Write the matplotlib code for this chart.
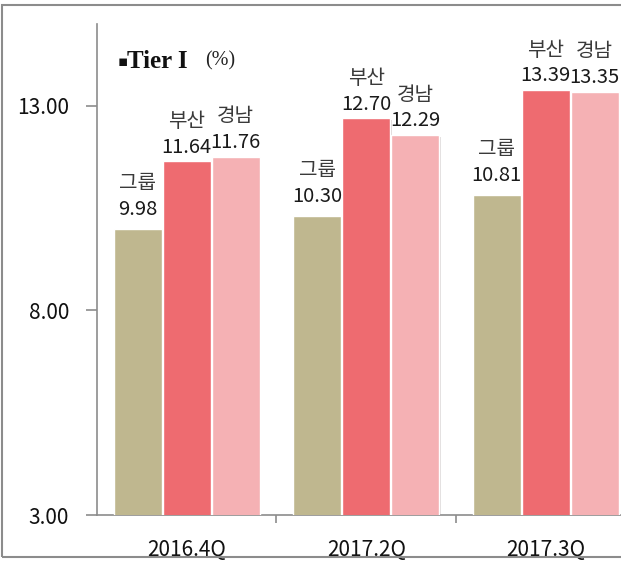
import matplotlib

matplotlib.use("Agg")

import matplotlib.pyplot as plt
import matplotlib.patheffects as pe
from matplotlib.patches import Rectangle
import numpy as np

plt.rcParams["font.family"] = ["Noto Sans CJK KR", "DejaVu Sans"]

quarters = ["2016.4Q", "2017.2Q", "2017.3Q"]
series = ["그룹", "부산", "경남"]
values = {
    "그룹": [9.98, 10.30, 10.81],
    "부산": [11.64, 12.70, 13.39],
    "경남": [11.76, 12.29, 13.35],
}
colors = {"그룹": "#bfb78f", "부산": "#ee6b70", "경남": "#f5b1b4"}
label_pad = {"그룹": 7, "부산": 2.5, "경남": 2.5}

fig = plt.figure(figsize=(6.21, 5.62), dpi=100)
ax = fig.add_axes([97 / 621, 47 / 562, 538.5 / 621, 491 / 562])

x = np.arange(len(quarters))
step = 0.273
width = 0.265
shadow = [pe.SimplePatchShadow(offset=(1.2, -1.2), alpha=0.18), pe.Normal()]

for i, name in enumerate(series):
    xs = x + (i - 1) * step
    bars = ax.bar(xs, values[name], width, bottom=0, color=colors[name],
                  edgecolor="white", linewidth=1.0, zorder=3)
    for b in bars:
        b.set_path_effects(shadow)
    for xi, v in zip(xs, values[name]):
        ax.annotate(f"{v:.2f}", (xi, v), xytext=(0, label_pad[name]),
                    textcoords="offset points", ha="center", va="bottom",
                    fontsize=14.5, color="#1a1a1a")
        ax.annotate(name, (xi, v), xytext=(0, label_pad[name] + 18.5),
                    textcoords="offset points", ha="center", va="bottom",
                    fontsize=14.5, color="#3a3a3a")

ax.set_ylim(3, 15)
ax.set_xlim(-0.5, 2.5)
ax.set_yticks([3, 8, 13])
ax.set_yticklabels(["3.00", "8.00", "13.00"])
ax.set_xticks(x)
ax.set_xticklabels(quarters)
ax.set_xticks([0.5, 1.5], minor=True)
ax.tick_params(axis="y", length=8, width=1.2, color="#8c8c8c", pad=12,
               labelsize=15, labelcolor="#111111")
ax.tick_params(axis="x", which="major", length=0, pad=17, labelsize=15,
               labelcolor="#111111")
ax.tick_params(axis="x", which="minor", length=6, width=1.2, color="#8c8c8c")

for s in ["top", "right"]:
    ax.spines[s].set_visible(False)
for s in ["left", "bottom"]:
    ax.spines[s].set_color("#8c8c8c")
    ax.spines[s].set_linewidth(1.2)

fig.text(118 / 621, 1 - 62 / 562, "▪", fontsize=11, color="#111111",
         family=["DejaVu Sans"], va="center", ha="left")
fig.text(127 / 621, 1 - 62 / 562, "Tier I", fontsize=18, fontweight="bold",
         family=["Liberation Serif"], va="center", ha="left", color="#111111")
fig.text(205 / 621, 1 - 61 / 562, "(%)", fontsize=14.5,
         family=["Liberation Serif"], va="center", ha="left", color="#222222")

fig.patches.append(Rectangle((2 / 621, 5 / 562), 1.05, 552 / 562,
                             transform=fig.transFigure, fill=False,
                             edgecolor="#8c8c8c", linewidth=1.5))

fig.savefig("out.png", dpi=100)
